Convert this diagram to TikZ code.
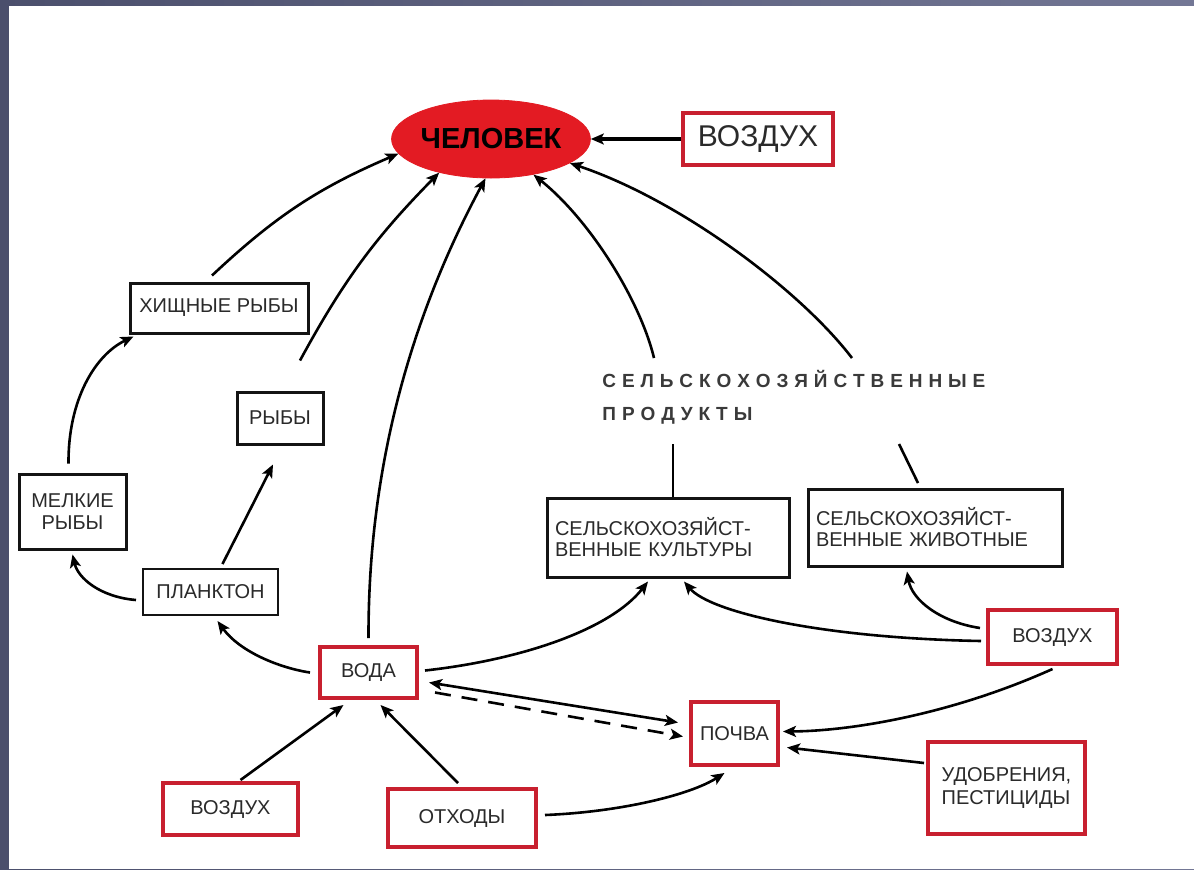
\documentclass[tikz,border=0pt]{standalone}
\usepackage{fontspec}
\setmainfont{Liberation Sans}
\usetikzlibrary{arrows.meta,shapes.geometric,calc}
\definecolor{redfill}{HTML}{E31B23}
\definecolor{redline}{HTML}{C8202F}
\definecolor{txt}{HTML}{2A2A2A}
\definecolor{lbl}{HTML}{3A3A3A}
\definecolor{bgA}{HTML}{4B4F6C}
\definecolor{bgB}{HTML}{737795}
\def\spr#1{#1\sprA}
\def\sprA#1{\ifx#1\relax\else\hfil#1\expandafter\sprA\fi}
\tikzset{
  boxfont/.style={font=\fontsize{10pt}{11pt}\selectfont},
  redbox/.style={draw=redline, line width=2pt, fill=white, text=txt, boxfont, inner sep=0pt},
  blackbox/.style={draw=black!92, line width=1.5pt, fill=white, text=txt, boxfont, inner sep=0pt},
  conn/.style={line width=1.3pt, -{Stealth[length=6.5pt,width=5.5pt,inset=1.5pt]}},
  bothconn/.style={line width=1.3pt, {Stealth[length=6.5pt,width=5.5pt,inset=1.5pt]}-{Stealth[length=6.5pt,width=5.5pt,inset=1.5pt]}},
  seg/.style={line width=1.3pt},
  spaced/.style={anchor=base west, inner sep=0pt, text=lbl, font=\bfseries\fontsize{9.5pt}{11pt}\selectfont}
}
\begin{document}
\begin{tikzpicture}[x=0.5pt,y=-0.5pt]
\useasboundingbox (0,0) rectangle (1194,869);
\shade[left color=bgA, right color=bgB] (0,0) rectangle (1194,869);
\fill[white] (9,6) rectangle (1194,869);

% nodes
\node[ellipse, draw=redfill, fill=redfill, minimum width=88pt, minimum height=39pt, inner sep=0pt,
      font=\bfseries\fontsize{14.5pt}{16pt}\selectfont, text=black] (chel) at (491,139) {ЧЕЛОВЕК};
\node[redbox, minimum width=75pt, minimum height=26pt, font=\fontsize{15pt}{17pt}\selectfont] (vozdT) at (758,139) {ВОЗДУХ};
\node[blackbox, minimum width=89pt, minimum height=25pt] (hish) at (219,308) {ХИЩНЫЕ РЫБЫ};
\node[blackbox, minimum width=43pt, minimum height=26pt] (ryby) at (280,418) {РЫБЫ};
\node[blackbox, minimum width=53.5pt, minimum height=37.5pt, align=center] (melk) at (72.5,511.5) {МЕЛКИЕ\\РЫБЫ};
\node[blackbox, line width=1pt, minimum width=67.5pt, minimum height=23pt] (plank) at (210.5,592) {ПЛАНКТОН};
\node[redbox, minimum width=48.5pt, minimum height=25.5pt] (voda) at (368.5,672.5) {ВОДА};
\node[redbox, minimum width=67.5pt, minimum height=26pt] (vozdBL) at (230.5,809) {ВОЗДУХ};
\node[redbox, minimum width=74pt, minimum height=29pt] (othody) at (462,818) {ОТХОДЫ};
\node[redbox, minimum width=43.5pt, minimum height=31.5pt] (pochva) at (734.5,733.5) {ПОЧВА};
\node[redbox, minimum width=78.5pt, minimum height=46pt, align=left, font=\fontsize{10pt}{11.5pt}\selectfont] (udobr) at (1006.5,788) {УДОБРЕНИЯ,\\ПЕСТИЦИДЫ};
\node[redbox, minimum width=64.5pt, minimum height=27pt] (vozdR) at (1052.5,637) {ВОЗДУХ};
\node[blackbox, minimum height=39.5pt, text width=113pt, inner xsep=4pt, align=left, font=\fontsize{10pt}{10.5pt}\selectfont] (cult) at (668,537.5) {СЕЛЬСКОХОЗЯЙСТ-\\ВЕННЫЕ КУЛЬТУРЫ};
\node[blackbox, minimum height=38.5pt, text width=119pt, inner xsep=4pt, align=left, font=\fontsize{10pt}{10.5pt}\selectfont] (anim) at (935,527.5) {СЕЛЬСКОХОЗЯЙСТ-\\ВЕННЫЕ ЖИВОТНЫЕ};
\node[spaced] (lab1) at (602,387) {\hbox to 191.5pt{\spr СЕЛЬСКОХОЗЯЙСТВЕННЫЕ\relax}};
\node[spaced] (lab2) at (602,420) {\hbox to 75pt{\spr ПРОДУКТЫ\relax}};

% free ends
\coordinate (cA) at (673,444);
\coordinate (cB) at (654,358);
\coordinate (aA) at (899,444);
\coordinate (aB) at (918,483);
\coordinate (aC) at (852,358);

% connectors to ЧЕЛОВЕК
\draw[conn, line width=1.8pt] (vozdT.west) -- (chel.east);
\draw[conn] ([xshift=-3.5pt,yshift=3pt]hish.north) to[bend left=10] (chel.189);
\draw[conn] ([xshift=10pt,yshift=15pt]ryby.north) to[bend left=8] (chel.213);
\draw[conn] ([yshift=3.5pt]voda.north) .. controls (368,450) and (420,300) .. (chel.262);
\draw[seg] ([xshift=2.5pt]cult.north) -- (cA);
\draw[conn] (cB) .. controls (640,300) and (590,220) .. (chel.320);
\draw[seg] (aA) -- (aB);
\draw[conn] (aC) .. controls (800,290) and (680,200) .. (chel.343);

% fish chain
\draw[conn] ([xshift=-3pt,yshift=-4pt]plank.west) .. controls (100,597) and (78,578) .. ([yshift=-2pt]melk.south);
\draw[conn] ([xshift=-2pt,yshift=4.5pt]melk.north) .. controls (68,400) and (95,355) .. ([xshift=2.5pt,yshift=-1pt]hish.south west);
\draw[conn] ([xshift=6pt,yshift=2pt]plank.north) -- ([xshift=-3.5pt,yshift=-9.5pt]ryby.south);
\draw[conn] ([xshift=-4pt]voda.west) .. controls (280,668) and (240,652) .. ([xshift=3.5pt,yshift=-2.5pt]plank.south);

% agriculture
\draw[conn] ([xshift=3pt,yshift=1pt]voda.east) .. controls (520,660) and (610,630) .. ([xshift=-10pt,yshift=-1.5pt]cult.south);
\draw[conn] ([xshift=-2.5pt,yshift=-2pt]vozdR.west) .. controls (820,638) and (710,612) .. ([xshift=8pt,yshift=-1.5pt]cult.south);
\draw[conn] ([xshift=-3pt,yshift=4.5pt]vozdR.west) .. controls (940,622) and (912,600) .. ([xshift=-14pt,yshift=-2pt]anim.south);

% soil
\draw[conn] ([yshift=-1.5pt]vozdR.south) .. controls (950,715) and (850,731) .. ([xshift=1.5pt,yshift=1pt]pochva.east);
\draw[conn] ([xshift=-1pt,yshift=12.5pt]udobr.west) -- ([xshift=3.5pt,yshift=-7pt]pochva.east);
\draw[conn] ([xshift=3.5pt,yshift=1.5pt]othody.east) .. controls (620,812) and (690,795) .. ([xshift=-5pt,yshift=-3pt]pochva.south);
\draw[bothconn] ([xshift=5pt,yshift=-5pt]voda.east) -- ([xshift=-5.5pt,yshift=5.5pt]pochva.west);
\draw[conn, dash pattern=on 8pt off 5.5pt] ([xshift=8pt,yshift=-10pt]voda.east) -- ([xshift=-3pt,yshift=-1.5pt]pochva.west);

% water inputs
\draw[conn] ([xshift=-2pt,yshift=2pt]othody.north) -- ([xshift=6pt,yshift=-2.5pt]voda.south);
\draw[conn] ([xshift=5pt,yshift=0.5pt]vozdBL.north) -- ([xshift=-12.5pt,yshift=-2.5pt]voda.south);
\end{tikzpicture}
\end{document}
